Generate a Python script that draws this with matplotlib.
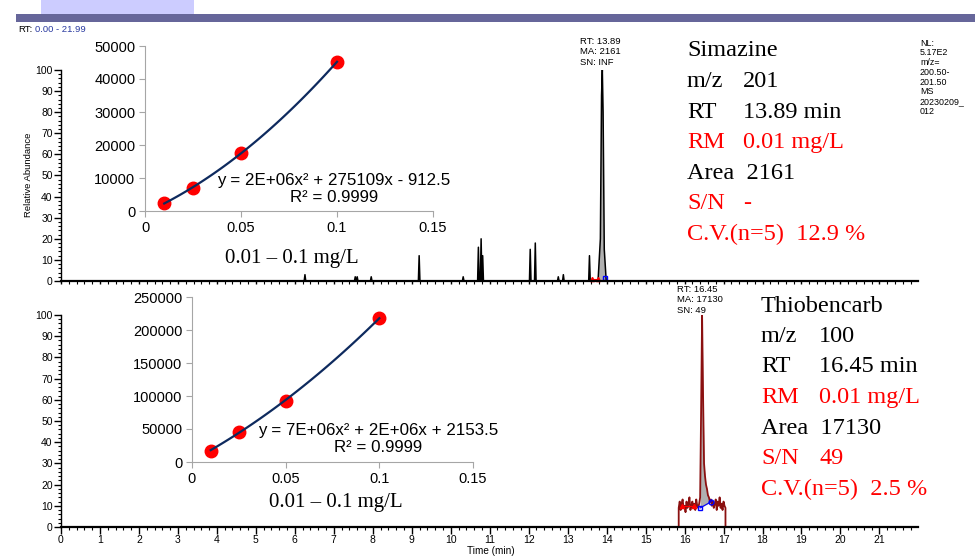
import numpy as np
import matplotlib.pyplot as plt
from matplotlib.patches import Rectangle
from matplotlib.ticker import MultipleLocator

W, H = 975, 556

# calibration points
conc = [0.01, 0.025, 0.05, 0.1]
sim_area = [2400, 7000, 17600, 45200]
thio_area = [17000, 46000, 93000, 218000]

# Simazine trace: small peaks (RT min, relative abundance %)
sim_minor_rt = [6.26, 7.55, 7.60, 7.96, 9.19, 10.32, 10.71, 10.78, 10.82,
                12.04, 12.17, 12.76, 12.89, 13.56]
sim_minor_h = [3, 2, 2, 2, 12, 2, 16, 20, 12, 15, 18, 2, 3, 12]
sim_peak_rt = [13.78, 13.84, 13.87, 13.89, 13.91, 13.94, 13.99]
sim_peak_h = [0, 20, 88, 100, 80, 15, 0]

# Thiobencarb trace around the peak (15.85 - 17.05 min)
thio_t = np.linspace(15.85, 17.05, 49)
thio_y = [9, 12, 8, 11, 13, 9, 10, 7, 12, 9, 11, 14, 8, 10, 12, 9, 11, 8, 13, 10, 9, 11,
          14, 55, 100, 62, 30, 24, 20, 18, 15, 14, 12, 13, 10,
          12, 9, 11, 13, 8, 12, 10, 14, 9, 11, 8, 12, 10, 9]

sim_info = [("Simazine", "", "k"), ("m/z", "201", "k"), ("RT", "13.89 min", "k"),
            ("RM", "0.01 mg/L", "r"), ("Area  2161", "", "k"), ("S/N", "-", "r"),
            ("C.V.(n=5)  12.9 %", "", "r")]
thio_info = [("Thiobencarb", "", "k"), ("m/z", "100", "k"), ("RT", "16.45 min", "k"),
             ("RM", "0.01 mg/L", "r"), ("Area  17130", "", "k"), ("S/N", "49", "r"),
             ("C.V.(n=5)  2.5 %", "", "r")]

plt.rcParams['font.family'] = ['Liberation Sans', 'DejaVu Sans']
fig = plt.figure(figsize=(9.75, 5.56), dpi=100)


def rect(x0, y0, x1, y1):
    # pixel box (top-left origin) -> figure fraction
    return [x0 / W, 1 - y1 / H, (x1 - x0) / W, (y1 - y0) / H]


def ftext(x, y, s, **kw):
    kw.setdefault('va', 'center')
    fig.text(x / W, 1 - y / H, s, **kw)


# header bits
fig.add_artist(Rectangle((16 / W, 1 - 22 / H), (975 - 16) / W, 8 / H,
                         transform=fig.transFigure, color='#66669a', lw=0))
fig.add_artist(Rectangle((41 / W, 1 - 14 / H), 153 / W, 14 / H,
                         transform=fig.transFigure, color='#ccccff', lw=0))
ftext(18, 30, "RT:", fontsize=6.8, color='k')
ftext(35, 30, "0.00 - 21.99", fontsize=6.8, color='#2a3aa0')


def style_main(ax, labels):
    ax.set_xlim(0, 21.99)
    ax.set_ylim(0, 100)
    ax.set_facecolor('none')
    for s in ('top', 'right'):
        ax.spines[s].set_visible(False)
    ax.spines['bottom'].set_linewidth(1.6)
    ax.spines['left'].set_linewidth(1.0)
    ax.xaxis.set_major_locator(MultipleLocator(1))
    ax.xaxis.set_minor_locator(MultipleLocator(0.2))
    ax.yaxis.set_major_locator(MultipleLocator(10))
    ax.yaxis.set_minor_locator(MultipleLocator(2))
    ax.tick_params(which='major', direction='out', length=5, width=1, labelsize=7.5, pad=1)
    ax.tick_params(which='minor', direction='out', length=2.5, width=0.8)
    if not labels:
        ax.tick_params(axis='x', which='both', labelbottom=False, length=2)


# top chromatogram (Simazine)
ax1 = fig.add_axes(rect(61, 70, 918, 281))
style_main(ax1, False)
tr_t, tr_y = [6.0], [0]
for rt, h in zip(sim_minor_rt, sim_minor_h):
    tr_t += [rt - 0.02, rt, rt + 0.02]
    tr_y += [0, h, 0]
tr_t += sim_peak_rt + [21.99]
tr_y += sim_peak_h + [0]
ax1.fill(sim_peak_rt, sim_peak_h, color='#b0b0b0', lw=0)
ax1.plot(tr_t, tr_y, color='k', lw=1.1)
ax1.plot([13.62, 13.78], [1, 1], color='red', marker='^', ms=3, lw=0.8, clip_on=False)
ax1.plot([13.97], [1.5], color='blue', marker='s', ms=3.5, mfc='none', clip_on=False)
ftext(29, 175, "Relative Abundance", fontsize=6.8, rotation=90, ha='center')

# bottom chromatogram (Thiobencarb)
ax2 = fig.add_axes(rect(61, 315, 918, 527))
style_main(ax2, True)
full_t = [6.0, 15.85] + list(thio_t) + [17.05, 21.99]
full_y = [0, 0] + thio_y + [0, 0]
pk = slice(22, 35)
base = np.interp(thio_t[pk], [16.40, 16.70], [9, 12])
ax2.fill_between(thio_t[pk], base, np.array(thio_y)[pk], color='#b0b0b0', lw=0)
ax2.plot(full_t, full_y, color='#8b1010', lw=1.3)
ax2.plot([15.94, 16.23], [10, 10], color='red', marker='^', ms=3, lw=0.8)
ax2.plot([16.40, 16.69], [9, 12], color='blue', lw=0.8)
ax2.plot([16.40], [9], color='blue', marker='s', ms=3.5, mfc='none')
ax2.plot([16.69], [12], color='blue', marker='o', ms=3.5, mfc='none')
ftext(491, 551, "Time (min)", fontsize=7.2, ha='center')

# peak annotations
for x, y0, lines in [(580, 41, ["RT: 13.89", "MA: 2161", "SN: INF"]),
                     (677, 289, ["RT: 16.45", "MA: 17130", "SN: 49"])]:
    for i, s in enumerate(lines):
        ftext(x, y0 + i * 10.6, s, fontsize=6.8)

nl = ["NL:", "5.17E2", "m/z=", "200.50-", "201.50", "MS", "20230209_", "012"]
for i, s in enumerate(nl):
    ftext(920, 43 + i * 9.8, s, fontsize=6.4)


def inset(box, area, yticks, eq, eq_xy, rng_xy):
    ax = fig.add_axes(rect(*box))
    ax.set_facecolor('none')
    ax.set_xlim(0, 0.15)
    ax.set_ylim(0, yticks[-1])
    for s in ('top', 'right'):
        ax.spines[s].set_visible(False)
    for s in ('left', 'bottom'):
        ax.spines[s].set_color('#a6a6a6')
    ax.set_xticks([0, 0.05, 0.1, 0.15])
    ax.set_xticklabels(["0", "0.05", "0.1", "0.15"])
    ax.set_yticks(yticks)
    ax.set_yticklabels([str(v) for v in yticks])
    ax.tick_params(colors='#a6a6a6', labelcolor='k', labelsize=10.5, length=4, pad=3)
    coef = np.polyfit(conc, area, 2)
    xs = np.linspace(conc[0], conc[-1], 100)
    ax.plot(conc, area, 'o', color='red', ms=9, zorder=2)
    ax.plot(xs, np.polyval(coef, xs), color='#0e2a5e', lw=1.6, zorder=3)
    ftext(eq_xy[0], eq_xy[1], eq[0], fontsize=12.2, ha='center')
    ftext(eq_xy[0], eq_xy[1] + 18, eq[1], fontsize=12.2, ha='center')
    ftext(rng_xy[0], rng_xy[1], "0.01 \u2013 0.1 mg/L", fontsize=15,
          ha='center', family='Liberation Serif')


inset((145, 46, 433, 211), sim_area, [0, 10000, 20000, 30000, 40000, 50000],
      ("y = 2E+06x\u00b2 + 275109x - 912.5", "R\u00b2 = 0.9999"), (334, 180), (292, 258))
inset((192, 297, 473, 462), thio_area, [0, 50000, 100000, 150000, 200000, 250000],
      ("y = 7E+06x\u00b2 + 2E+06x + 2153.5", "R\u00b2 = 0.9999"), (378, 430), (336, 502))


# compound info blocks
def info(block, x0, x1, y0):
    for i, (a, b, c) in enumerate(block):
        col = 'red' if c == 'r' else 'black'
        y = y0 + i * 30.5
        ftext(x0, y, a, fontsize=17.5, color=col, family='Liberation Serif')
        if b:
            ftext(x1, y, b, fontsize=17.5, color=col, family='Liberation Serif')


info(sim_info, 687, 743, 51)
info(thio_info, 761, 819, 306)

fig.savefig("out.png", dpi=100)
